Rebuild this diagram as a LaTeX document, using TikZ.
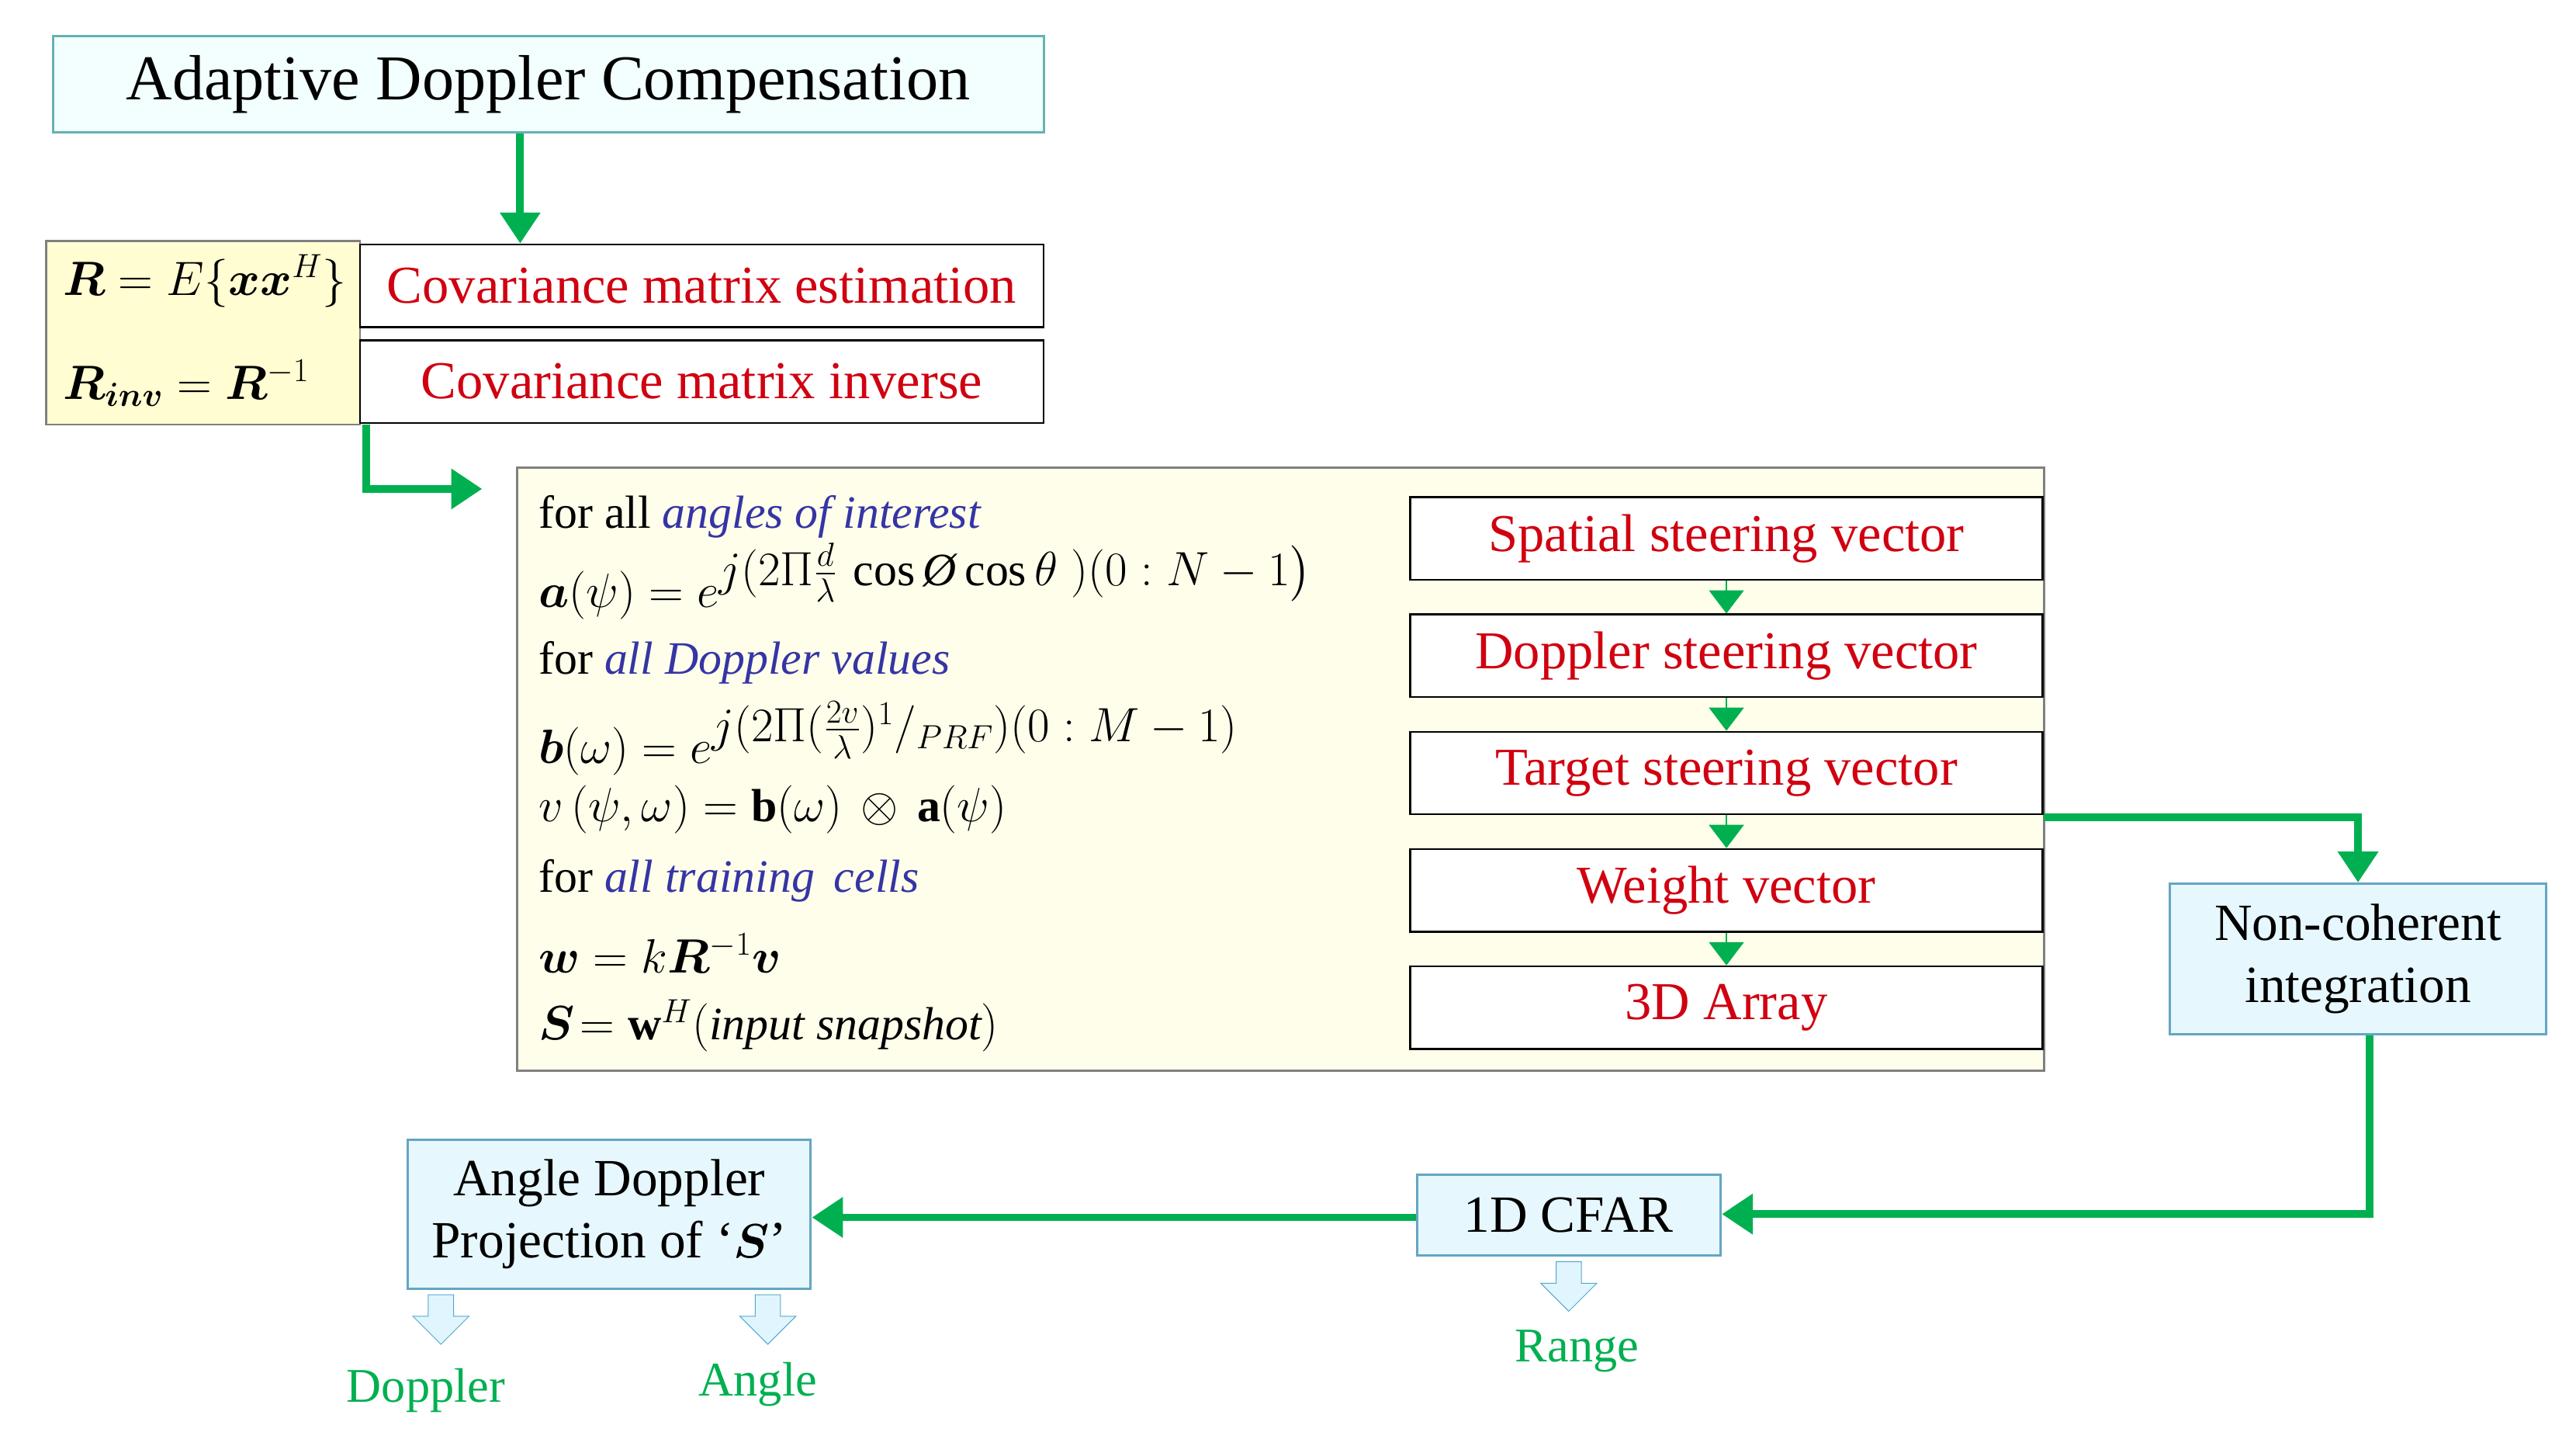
\documentclass[tikz,border=0pt]{standalone}
\usepackage{amsmath,amssymb,bm}
\usepackage{fontspec}
\setmainfont{Liberation Serif}
\usetikzlibrary{arrows.meta,shapes.arrows}
\definecolor{gr}{HTML}{00B050}
\definecolor{bl}{HTML}{3535A5}
\definecolor{rd}{HTML}{D00010}
\newlength\pu \setlength\pu{0.03cm}
\begin{document}
\begin{tikzpicture}[x=0.03cm,y=-0.03cm,
  garrow/.style={draw=gr,line width=4pt,-{Triangle[length=16pt,width=20pt]}},
  rbox/.style={draw=black,line width=1pt,fill=white,text=rd,font=\rmfamily\fontsize{27.5}{30}\selectfont,inner sep=0pt},
  bbox/.style={draw=cyan!50!gray,line width=1.2pt,fill=cyan!10,font=\rmfamily\fontsize{27}{32}\selectfont,align=center,inner sep=0pt},
  harrow/.style={single arrow,draw=cyan!60!gray,fill=cyan!12,minimum width=34\pu,single arrow head extend=6\pu,minimum height=30\pu,inner sep=4pt,shape border rotate=270},
  glab/.style={text=gr,font=\rmfamily\fontsize{25}{28}\selectfont},
  fl/.style={anchor=west,font=\rmfamily\fontsize{24}{28}\selectfont,inner sep=0pt}]
\useasboundingbox (0,0) rectangle (1560,871);
% title
\node[draw=teal!60,line width=1.2pt,fill=green!8!cyan!5,minimum width=600\pu,minimum height=58\pu,font=\rmfamily\fontsize{33}{36}\selectfont,inner sep=0pt] (title) at (332,51) {Adaptive Doppler Compensation};
% left yellow box
\node[draw=gray,line width=1pt,fill=yellow!18,minimum width=190\pu,minimum height=111\pu,inner sep=0pt] (ybox) at (123,201.5) {};
\node[fl,font=\fontsize{25}{28}\selectfont] (r1) at (38,170) {$\bm{R}=E\{\bm{x}\bm{x}^H\}$};
\node[fl,font=\fontsize{25}{28}\selectfont] (r2) at (38,232) {$\bm{R}_{\bm{inv}}=\bm{R}^{-1}$};
\node[rbox,minimum width=414\pu,minimum height=50\pu] (cest) at (425,173) {Covariance matrix estimation};
\node[rbox,minimum width=414\pu,minimum height=50\pu] (cinv) at (425,231) {Covariance matrix inverse};
\draw[garrow] (title.south -| 315,0) -- (cest.north -| 315,0);
% big box
\node[draw=gray,line width=1.2pt,fill=yellow!8,minimum width=925\pu,minimum height=365\pu,inner sep=0pt] (big) at (775.5,465.5) {};
\coordinate (bend) at (222,296);
\coordinate (bigin) at (292,296);
\draw[garrow] (222,257) -- (bend) -- (bigin);
\node[fl] (f1) at (326,313) {for all \textcolor{bl}{\textit{angles of interest}}};
\node[fl] (f2) at (326,352) {$\bm{a}(\psi)=e^{\textstyle j(2\Pi\frac{d}{\lambda}\,\cos\textit{Ø}\cos\theta\;)(0:N-1\big)}$};
\node[fl] (f3) at (326,401) {for \textcolor{bl}{\textit{all Doppler values}}};
\node[fl] (f4) at (326,447) {$\bm{b}(\omega)=e^{\textstyle j(2\Pi(\frac{2v}{\lambda})^1/_{PRF})(0:M-1)}$};
\node[fl] (f5) at (326,490) {$v\,(\psi,\omega)=\mathbf{b}(\omega)\,\otimes\,\mathbf{a}(\psi)$};
\node[fl] (f6) at (326,533) {for \textcolor{bl}{\textit{all training\, cells}}};
\node[fl] (f7) at (326,577) {$\bm{w}=k\bm{R}^{-1}\bm{v}$};
\node[fl] (f8) at (326,621) {$\bm{S}\!=\mathbf{w}^H(\textit{input snapshot})$};
% right chain
\foreach \n/\t/\yy in {s1/Spatial steering vector/326,s2/Doppler steering vector/397,s3/Target steering vector/468,s4/Weight vector/539,s5/3D Array/610}
  \node[rbox,minimum width=383\pu,minimum height=50\pu] (\n) at (1045.5,\yy) {\t};
\foreach \a/\b in {s1/s2,s2/s3,s3/s4,s4/s5}
  \draw[draw=gr,line width=1pt,-{Triangle[length=12pt,width=18pt]}] (\a.south) -- (\b.north);
% non-coherent
\node[bbox,minimum width=228\pu,minimum height=91\pu] (nc) at (1428,580.5) {Non-coherent\\integration};
\coordinate (c1) at (1428,495);
\draw[garrow] (s3.east |- 0,495) -- (c1) -- (nc.north);
\node[bbox,minimum width=184\pu,minimum height=49\pu] (cfar) at (950,735.5) {1D CFAR};
\coordinate (c2) at (1435,735);
\draw[garrow] (nc.south -| 1435,0) -- (c2) -- (cfar.east |- 0,735);
\node[bbox,minimum width=244\pu,minimum height=90\pu] (adp) at (369,735) {Angle Doppler\\Projection of `$\bm{S}$'};
\draw[garrow] (cfar.west |- 0,737) -- (adp.east |- 0,737);
% hollow arrows
\node[harrow] (h1) at (267,795) {};
\node[harrow] (h2) at (465,795) {};
\node[harrow] (h3) at (950,775) {};
\node[glab] (l1) at (258,842) {Doppler};
\node[glab] (l2) at (459,838) {Angle};
\node[glab] (l3) at (955,818) {Range};
\end{tikzpicture}
\end{document}
